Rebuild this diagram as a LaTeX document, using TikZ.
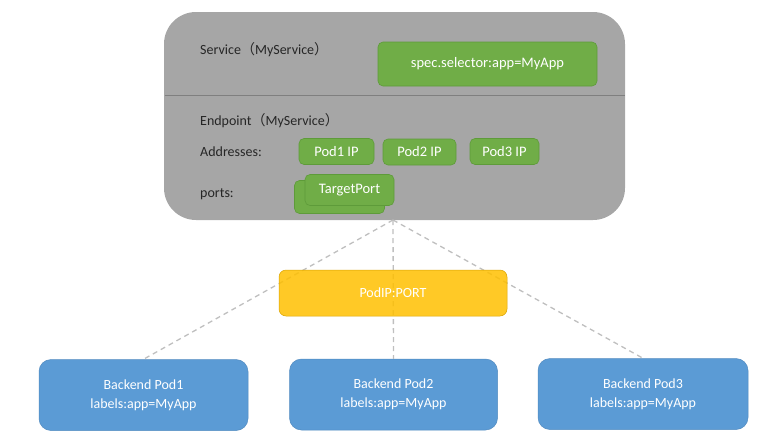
\documentclass[tikz,border=0pt]{standalone}
\usepackage{fontspec}
\setmainfont{Carlito}
\newfontfamily\cjk{Noto Sans CJK SC}
\definecolor{svcgray}{HTML}{A6A6A6}
\definecolor{divgray}{HTML}{7F7F7F}
\definecolor{grn}{HTML}{70AD47}
\definecolor{grnedge}{HTML}{5E9B3A}
\definecolor{ylw}{HTML}{FFC000}
\definecolor{blu}{HTML}{5B9BD5}
\definecolor{dashgray}{HTML}{BFBFBF}
\newcommand{\cjkparen}[1]{{\cjk\fontsize{14}{16}\selectfont #1}}
\tikzset{
  gbox/.style={fill=grn, draw=grnedge, line width=0.6pt, rounded corners=5pt, text=white, font=\fontsize{14.5}{16}\selectfont},
  lbl/.style={anchor=west, inner sep=0pt, text=black!85, font=\fontsize{14}{16}\selectfont},
  podbox/.style={fill=blu, draw=blu!90!black, line width=0.5pt, rounded corners=12pt, text=white, align=center, font=\fontsize{14}{19}\selectfont},
  conn/.style={draw=dashgray, line width=1.3pt, dash pattern=on 5pt off 4pt},
}
\begin{document}
\begin{tikzpicture}[x=1pt,y=-1pt]
\useasboundingbox (0,0) rectangle (777,437);
% service box
\node[fill=svcgray, rounded corners=32pt, minimum width=461pt, minimum height=208pt, inner sep=0pt] (svc) at (394.5,116) {};
\draw[divgray, line width=0.8pt] (164.5,95) -- (624.5,95);
\node[lbl] (svct) at (200,50) {Service\cjkparen{（}MyService\cjkparen{）}};
\node[gbox, minimum width=219pt, minimum height=44pt] (sel) at (487.5,64) {spec.selector:app=MyApp};
\node[lbl] (ept) at (200,121) {Endpoint\cjkparen{（}MyService\cjkparen{）}};
\node[lbl] (addr) at (200,152) {Addresses:};
\node[gbox, minimum width=75pt, minimum height=26pt] (p1) at (336.5,151.5) {Pod1 IP};
\node[gbox, minimum width=73pt, minimum height=26pt] (p2) at (419.5,152) {Pod2 IP};
\node[gbox, minimum width=69pt, minimum height=26pt] (p3) at (504.5,151.5) {Pod3 IP};
\node[lbl] (ports) at (200,194) {ports:};
\node[gbox, minimum width=90pt, minimum height=33pt] (tpback) at (339.5,197) {};
\node[gbox, minimum width=89pt, minimum height=31pt] (tp) at (349.5,190) {TargetPort};
\coordinate (apex) at (393,220);
% pods
\node[podbox, minimum width=209pt, minimum height=71pt] (b1) at (143.5,395) {Backend Pod1\\labels:app=MyApp};
\node[podbox, minimum width=208pt, minimum height=71pt] (b2) at (393.5,394.5) {Backend Pod2\\labels:app=MyApp};
\node[podbox, minimum width=210pt, minimum height=71pt] (b3) at (643,394) {Backend Pod3\\labels:app=MyApp};
% connectors
\draw[conn] (apex) -- (b1.north);
\draw[conn] (apex) -- (b2.north);
\draw[conn] (apex) -- (b3.north);
% yellow
\node[fill=ylw, fill opacity=0.85, text opacity=1, draw=ylw!85!black, line width=0.5pt, rounded corners=7pt, minimum width=228pt, minimum height=46pt, text=white, font=\fontsize{14}{16}\selectfont] (pp) at (393,293) {PodIP:PORT};
\end{tikzpicture}
\end{document}
